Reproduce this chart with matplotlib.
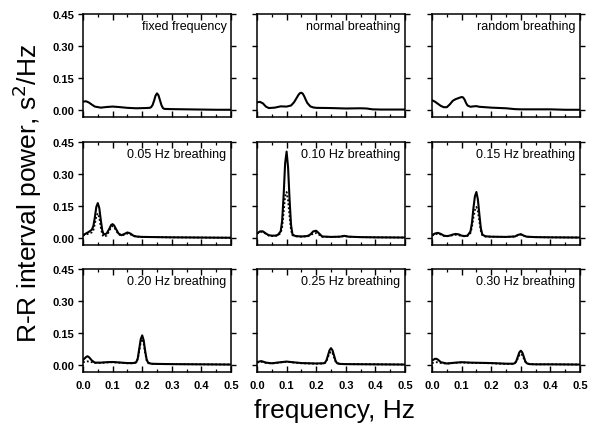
import matplotlib
matplotlib.use("Agg")
import matplotlib.pyplot as plt
from matplotlib.ticker import MultipleLocator, FixedLocator

plt.rcParams['font.family'] = ['Liberation Sans', 'DejaVu Sans']

# ---------------- data ----------------
titles = ["fixed frequency", "normal breathing", "random breathing",
          "0.05 Hz breathing", "0.10 Hz breathing", "0.15 Hz breathing",
          "0.20 Hz breathing", "0.25 Hz breathing", "0.30 Hz breathing"]

f_fixed = [0, 0.01, 0.02, 0.03, 0.04, 0.06, 0.08, 0.10, 0.12, 0.15, 0.18, 0.21, 0.225, 0.23, 0.235,
           0.24, 0.245, 0.25, 0.255, 0.26, 0.265, 0.27, 0.275, 0.3, 0.35, 0.4, 0.45, 0.5]
p_fixed = [0.038, 0.040, 0.034, 0.024, 0.015, 0.010, 0.013, 0.015, 0.013, 0.009, 0.007, 0.008, 0.009,
           0.012, 0.022, 0.042, 0.066, 0.077, 0.068, 0.045, 0.022, 0.008, 0.004, 0.003, 0.002, 0.001,
           0.000, 0.000]

f_norm = [0, 0.01, 0.02, 0.03, 0.04, 0.06, 0.08, 0.10, 0.115, 0.125, 0.135, 0.14, 0.145, 0.15, 0.155,
          0.16, 0.165, 0.17, 0.18, 0.19, 0.2, 0.25, 0.3, 0.35, 0.37, 0.39, 0.42, 0.5]
p_norm = [0.035, 0.037, 0.030, 0.015, 0.008, 0.010, 0.016, 0.015, 0.020, 0.035, 0.058, 0.070, 0.078,
          0.080, 0.075, 0.062, 0.046, 0.032, 0.016, 0.011, 0.009, 0.008, 0.006, 0.007, 0.006, 0.002,
          0.001, 0.001]

f_rand = [0, 0.01, 0.02, 0.03, 0.04, 0.05, 0.06, 0.07, 0.08, 0.09, 0.10, 0.105, 0.11, 0.115, 0.12,
          0.13, 0.14, 0.15, 0.16, 0.18, 0.2, 0.25, 0.28, 0.3, 0.4, 0.45, 0.5]
p_rand = [0.045, 0.038, 0.028, 0.018, 0.012, 0.012, 0.025, 0.042, 0.050, 0.055, 0.060, 0.058, 0.048,
          0.032, 0.020, 0.014, 0.016, 0.017, 0.014, 0.012, 0.010, 0.007, 0.003, 0.002, 0.002, 0.0, 0.0]

f_005 = [0, 0.01, 0.02, 0.03, 0.035, 0.04, 0.045, 0.05, 0.055, 0.06, 0.065, 0.07, 0.08, 0.09, 0.095,
         0.10, 0.105, 0.11, 0.12, 0.13, 0.14, 0.15, 0.16, 0.17, 0.18, 0.2, 0.25, 0.3, 0.4, 0.5]
p_005_solid = [0.012, 0.020, 0.028, 0.038, 0.055, 0.095, 0.145, 0.163, 0.140, 0.085, 0.035, 0.015,
               0.020, 0.045, 0.060, 0.064, 0.058, 0.045, 0.020, 0.012, 0.018, 0.025, 0.020, 0.010,
               0.006, 0.004, 0.003, 0.002, 0.001, 0.0]
p_005_dotted = [0.010, 0.015, 0.020, 0.025, 0.035, 0.065, 0.100, 0.115, 0.095, 0.050, 0.015, 0.005,
                0.010, 0.035, 0.050, 0.055, 0.050, 0.038, 0.016, 0.010, 0.015, 0.020, 0.016, 0.008,
                0.005, 0.004, 0.003, 0.002, 0.001, 0.0]

f_010 = [0, 0.01, 0.02, 0.03, 0.04, 0.05, 0.06, 0.07, 0.08, 0.085, 0.09, 0.095, 0.10, 0.105, 0.11,
         0.115, 0.12, 0.13, 0.15, 0.17, 0.18, 0.19, 0.20, 0.21, 0.22, 0.25, 0.28, 0.295, 0.31, 0.35,
         0.4, 0.5]
p_010_solid = [0.020, 0.030, 0.030, 0.020, 0.012, 0.010, 0.010, 0.013, 0.030, 0.080, 0.200, 0.350,
               0.405, 0.330, 0.180, 0.060, 0.015, 0.008, 0.006, 0.008, 0.015, 0.030, 0.033, 0.020,
               0.006, 0.004, 0.005, 0.009, 0.005, 0.003, 0.002, 0.001]
p_010_dotted = [0.020, 0.028, 0.028, 0.018, 0.010, 0.008, 0.008, 0.010, 0.022, 0.050, 0.120, 0.195,
                0.215, 0.175, 0.100, 0.035, 0.012, 0.007, 0.005, 0.007, 0.011, 0.020, 0.022, 0.014,
                0.005, 0.004, 0.005, 0.008, 0.005, 0.003, 0.002, 0.001]

f_015 = [0, 0.01, 0.02, 0.03, 0.04, 0.05, 0.06, 0.07, 0.08, 0.09, 0.10, 0.11, 0.12, 0.13, 0.135, 0.14,
         0.145, 0.15, 0.155, 0.16, 0.165, 0.17, 0.18, 0.2, 0.25, 0.28, 0.29, 0.30, 0.31, 0.32, 0.35,
         0.4, 0.5]
p_015_solid = [0.012, 0.020, 0.023, 0.018, 0.010, 0.008, 0.010, 0.015, 0.018, 0.016, 0.010, 0.008,
               0.010, 0.030, 0.070, 0.140, 0.195, 0.215, 0.180, 0.110, 0.045, 0.015, 0.007, 0.005,
               0.004, 0.006, 0.013, 0.017, 0.010, 0.005, 0.003, 0.002, 0.001]
p_015_dotted = [0.010, 0.016, 0.020, 0.015, 0.009, 0.007, 0.009, 0.012, 0.014, 0.012, 0.008, 0.007,
                0.009, 0.022, 0.050, 0.095, 0.130, 0.145, 0.125, 0.075, 0.032, 0.012, 0.006, 0.005,
                0.004, 0.006, 0.012, 0.015, 0.009, 0.005, 0.003, 0.002, 0.001]

f_020 = [0, 0.01, 0.015, 0.02, 0.03, 0.04, 0.06, 0.08, 0.10, 0.12, 0.15, 0.17, 0.18, 0.185, 0.19,
         0.195, 0.20, 0.205, 0.21, 0.215, 0.22, 0.23, 0.25, 0.3, 0.4, 0.5]
p_020_solid = [0.022, 0.036, 0.040, 0.036, 0.020, 0.010, 0.010, 0.012, 0.013, 0.011, 0.008, 0.008,
               0.012, 0.030, 0.075, 0.120, 0.138, 0.115, 0.065, 0.025, 0.010, 0.005, 0.004, 0.003,
               0.002, 0.001]
p_020_dotted = [0.012, 0.015, 0.016, 0.015, 0.012, 0.009, 0.009, 0.011, 0.012, 0.010, 0.007, 0.007,
                0.010, 0.026, 0.065, 0.105, 0.122, 0.100, 0.055, 0.020, 0.008, 0.004, 0.004, 0.003,
                0.002, 0.001]

f_025 = [0, 0.01, 0.015, 0.02, 0.03, 0.05, 0.08, 0.10, 0.12, 0.15, 0.2, 0.225, 0.23, 0.235, 0.24,
         0.245, 0.25, 0.255, 0.26, 0.265, 0.27, 0.28, 0.3, 0.4, 0.5]
p_025_solid = [0.012, 0.016, 0.017, 0.015, 0.010, 0.007, 0.012, 0.015, 0.012, 0.008, 0.006, 0.007,
               0.010, 0.022, 0.045, 0.068, 0.078, 0.068, 0.045, 0.020, 0.008, 0.004, 0.003, 0.002,
               0.001]
p_025_dotted = [0.010, 0.013, 0.014, 0.013, 0.009, 0.006, 0.011, 0.014, 0.011, 0.007, 0.005, 0.006,
                0.009, 0.018, 0.036, 0.054, 0.062, 0.054, 0.036, 0.016, 0.007, 0.004, 0.003, 0.002,
                0.001]

f_030 = [0, 0.01, 0.015, 0.02, 0.03, 0.05, 0.08, 0.10, 0.13, 0.2, 0.25, 0.275, 0.28, 0.285, 0.29,
         0.295, 0.30, 0.305, 0.31, 0.315, 0.32, 0.33, 0.35, 0.4, 0.5]
p_030_solid = [0.020, 0.028, 0.028, 0.024, 0.012, 0.006, 0.010, 0.012, 0.010, 0.008, 0.005, 0.005,
               0.008, 0.018, 0.038, 0.058, 0.066, 0.058, 0.038, 0.017, 0.007, 0.003, 0.002, 0.002,
               0.001]
p_030_dotted = [0.008, 0.011, 0.012, 0.011, 0.008, 0.005, 0.009, 0.011, 0.009, 0.007, 0.004, 0.004,
                0.007, 0.015, 0.030, 0.045, 0.052, 0.045, 0.030, 0.014, 0.006, 0.003, 0.002, 0.002,
                0.001]

yticks = [0.00, 0.15, 0.30, 0.45]
xticks = [0.0, 0.1, 0.2, 0.3, 0.4, 0.5]

panels = [
    (f_fixed, p_fixed, None),
    (f_norm, p_norm, None),
    (f_rand, p_rand, None),
    (f_005, p_005_solid, p_005_dotted),
    (f_010, p_010_solid, p_010_dotted),
    (f_015, p_015_solid, p_015_dotted),
    (f_020, p_020_solid, p_020_dotted),
    (f_025, p_025_solid, p_025_dotted),
    (f_030, p_030_solid, p_030_dotted),
]

# ---------------- figure ----------------
W, H = 594, 435
fig = plt.figure(figsize=(W / 100, H / 100), dpi=100)

col_left = [83, 257, 432]
row_top = [15, 143, 270]
aw, ah = 148, 103

for i, (f, s, d) in enumerate(panels):
    r, c = divmod(i, 3)
    ax = fig.add_axes([col_left[c] / W, 1 - (row_top[r] + ah) / H, aw / W, ah / H])
    if d is not None:
        ax.plot(f, d, color='black', lw=1.3, ls=(0, (1, 1.2)))
    ax.plot(f, s, color='black', lw=1.5)
    ax.set_xlim(0, 0.5)
    ax.set_ylim(-0.034, 0.45)
    ax.xaxis.set_major_locator(FixedLocator(xticks))
    ax.xaxis.set_minor_locator(MultipleLocator(0.05))
    ax.yaxis.set_major_locator(FixedLocator(yticks))
    ax.tick_params(axis='x', which='major', direction='in', top=True, bottom=True,
                   length=4.5, width=1.0)
    ax.tick_params(axis='x', which='minor', direction='in', top=True, bottom=True,
                   length=2.5, width=0.9)
    ax.tick_params(axis='y', which='major', direction='out', left=True, right=True,
                   length=3.5, width=1.0)
    for sp in ax.spines.values():
        sp.set_linewidth(1.1)
    if r == 2:
        ax.set_xticklabels([f"{v:.1f}" for v in xticks], fontsize=8, fontweight='bold')
        ax.tick_params(axis='x', which='major', pad=6)
    else:
        ax.set_xticklabels([])
    if c == 0:
        ax.set_yticklabels([f"{v:.2f}" for v in yticks], fontsize=8, fontweight='bold')
        ax.tick_params(axis='y', which='major', pad=3)
    else:
        ax.set_yticklabels([])
    ax.text(0.97, 0.885, titles[i], transform=ax.transAxes, ha='right', va='center',
            fontsize=9)

fig.text(27 / W, 1 - 193 / H, "R-R interval power, s$^{2}$/Hz", rotation=90,
         ha='center', va='center', fontsize=19)
fig.text(335 / W, 1 - 411 / H, "frequency, Hz", ha='center', va='center', fontsize=19)

fig.savefig("out.png", dpi=100)
